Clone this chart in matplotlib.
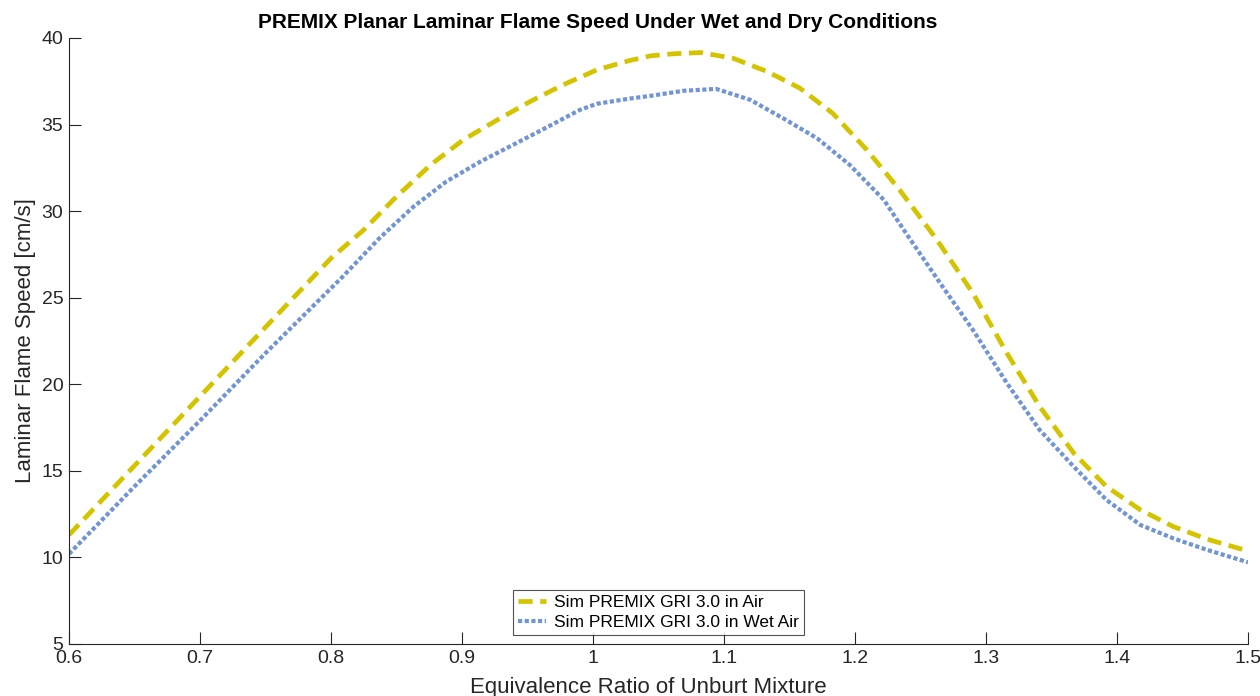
import matplotlib
matplotlib.use("Agg")
import matplotlib.pyplot as plt

plt.rcParams['font.family'] = ['Liberation Sans', 'DejaVu Sans']

# dry air: equivalence ratio and flame speed [cm/s]
phi_dry = [0.600, 0.650, 0.700, 0.750, 0.800, 0.825, 0.850, 0.876, 0.901,
           0.927, 0.952, 0.977, 1.003, 1.028, 1.044, 1.060, 1.082, 1.107,
           1.133, 1.158, 1.183, 1.209, 1.234, 1.262, 1.290, 1.316, 1.341,
           1.367, 1.392, 1.418, 1.443, 1.469, 1.500]
s_dry = [11.3, 15.3, 19.3, 23.3, 27.28, 28.92, 30.84, 32.67, 34.12,
         35.27, 36.33, 37.29, 38.16, 38.70, 38.97, 39.08, 39.16, 38.83,
         38.06, 37.10, 35.65, 33.54, 31.23, 28.4, 25.26, 21.79, 18.71,
         16.02, 14.09, 12.74, 11.78, 11.05, 10.37]
# wet air: equivalence ratio and flame speed [cm/s]
phi_wet = [0.600, 0.650, 0.700, 0.750, 0.809, 0.837, 0.863, 0.888, 0.914,
           0.939, 0.965, 0.990, 1.003, 1.028, 1.044, 1.069, 1.094, 1.120,
           1.145, 1.171, 1.196, 1.222, 1.239, 1.265, 1.290, 1.316, 1.341,
           1.367, 1.392, 1.418, 1.443, 1.469, 1.500]
s_wet = [10.2, 14.1, 17.9, 21.8, 26.22, 28.44, 30.26, 31.71, 32.86,
         33.83, 34.85, 35.85, 36.2, 36.5, 36.66, 36.95, 37.06, 36.43,
         35.37, 34.21, 32.67, 30.65, 28.72, 25.84, 23.14, 20.06, 17.36,
         15.24, 13.32, 11.87, 11.10, 10.43, 9.72]

fig = plt.figure(figsize=(12.6, 6.96), dpi=100)
ax = fig.add_axes([69/1260, 1-644/696, (1248-69)/1260, (644-38)/696])

ax.plot(phi_dry, s_dry, color='#d4c400', lw=3.4, linestyle=(0, (3, 1.6)),
        dash_capstyle='butt', label='Sim PREMIX GRI 3.0 in Air')
ax.plot(phi_wet, s_wet, color='#7094d6', lw=3.0, linestyle=(0, (1, 0.6)),
        dash_capstyle='butt', label='Sim PREMIX GRI 3.0 in Wet Air')

ax.set_xlim(0.6, 1.5)
ax.set_ylim(5, 40)
ax.set_xticks([0.6, 0.7, 0.8, 0.9, 1.0, 1.1, 1.2, 1.3, 1.4, 1.5])
ax.set_xticklabels(['0.6', '0.7', '0.8', '0.9', '1', '1.1', '1.2', '1.3', '1.4', '1.5'])
ax.set_yticks([5, 10, 15, 20, 25, 30, 35, 40])

for s in ['top', 'right']:
    ax.spines[s].set_visible(False)
for s in ['left', 'bottom']:
    ax.spines[s].set_color('#262626')
    ax.spines[s].set_linewidth(0.8)
ax.tick_params(direction='in', length=8.5, width=0.8, color='#262626',
               labelcolor='#262626', labelsize=14, pad=4)

fig.text(598/1260, 1-22/696,
         'PREMIX Planar Laminar Flame Speed Under Wet and Dry Conditions',
         fontsize=15, fontweight='bold', ha='center', va='center')
ax.set_xlabel('Equivalence Ratio of Unburt Mixture', fontsize=16,
              color='#262626')
ax.xaxis.set_label_coords(0.491, -0.055)
ax.set_ylabel('Laminar Flame Speed [cm/s]', fontsize=16, color='#262626',
              labelpad=4)

leg = ax.legend(loc='lower center', bbox_to_anchor=(0.5, 0.015), fontsize=12.5,
                frameon=True, fancybox=False, edgecolor='#262626',
                handlelength=1.6, borderpad=0.3, labelspacing=0.25,
                handletextpad=0.5, borderaxespad=0)
leg.get_frame().set_linewidth(0.8)

fig.savefig('out.png', dpi=100)
